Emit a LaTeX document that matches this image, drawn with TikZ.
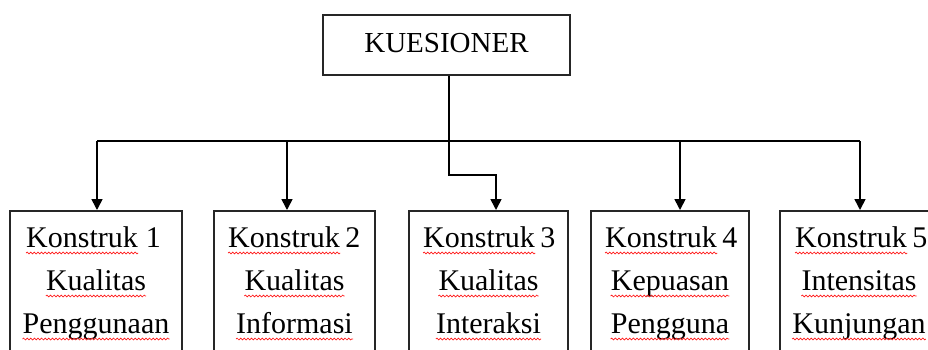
\documentclass[tikz,border=0pt]{standalone}
\usepackage{fontspec}
\setmainfont{Liberation Serif}
\usetikzlibrary{arrows.meta,decorations.pathmorphing}
\tikzset{
  conn/.style={line width=1.6pt, draw=black},
  arr/.style={conn, -{Triangle[length=11pt,width=11pt]}},
  topbox/.style={draw=black!85, line width=1.6pt, minimum width=247pt, minimum height=60pt,
    inner sep=0pt, text height=21pt, text depth=7pt, font=\fontsize{29}{34}\selectfont},
  cbox/.style={draw=black!85, line width=1.6pt, anchor=north, minimum height=200pt, inner sep=0pt},
  txt/.style={anchor=base, inner sep=0pt, font=\fontsize{30}{36}\selectfont},
  wave/.style={draw=red!90, line width=0.7pt,
    decorate, decoration={snake, amplitude=0.9pt, segment length=3.6pt}},
}
\begin{document}
\begin{tikzpicture}[x=1pt, y=-1pt]
  \useasboundingbox (0,0) rectangle (928,349);
  \clip (0,0) rectangle (928,349);

  \node[topbox] (q) at (446.5,45) {KUESIONER};

  \node[cbox, minimum width=172pt] (k1) at (96,210) {};
  \node[cbox, minimum width=161pt] (k2) at (294.5,210) {};
  \node[cbox, minimum width=159pt] (k3) at (488.5,210) {};
  \node[cbox, minimum width=158pt] (k4) at (670,210) {};
  \node[cbox, minimum width=158pt] (k5) at (859,210) {};

  % first lines: the word and its number
  \node[txt, anchor=base west] (k1a) at (26,247) {Konstruk};
  \node[txt, anchor=base west] (k1n) at ([xshift=7.5pt]k1a.base east) {1};
  \node[txt, anchor=base west] (k2a) at (228,247) {Konstruk};
  \node[txt, anchor=base west] (k2n) at ([xshift=5pt]k2a.base east) {2};
  \node[txt, anchor=base west] (k3a) at (423,247) {Konstruk};
  \node[txt, anchor=base west] (k3n) at ([xshift=5pt]k3a.base east) {3};
  \node[txt, anchor=base west] (k4a) at (605,247) {Konstruk};
  \node[txt, anchor=base west] (k4n) at ([xshift=5pt]k4a.base east) {4};
  \node[txt, anchor=base west] (k5a) at (795,247) {Konstruk};
  \node[txt, anchor=base west] (k5n) at ([xshift=5pt]k5a.base east) {5};

  % second and third lines
  \node[txt] (k1b) at (96,290) {Kualitas};
  \node[txt] (k1c) at (96,333) {Penggunaan};
  \node[txt] (k2b) at (294.5,290) {Kualitas};
  \node[txt] (k2c) at (294.5,333) {Informasi};
  \node[txt] (k3b) at (488.5,290) {Kualitas};
  \node[txt] (k3c) at (488.5,333) {Interaksi};
  \node[txt] (k4b) at (670,290) {Kepuasan};
  \node[txt] (k4c) at (670,333) {Pengguna};
  \node[txt] (k5b) at (859,290) {Intensitas};
  \node[txt] (k5c) at (859,333) {Kunjungan};

  % red wavy proofing marks under the words
  \foreach \w in {k1a,k1b,k1c,k2a,k2b,k2c,k3a,k3b,k3c,k4a,k4b,k4c,k5a,k5b,k5c}
    \draw[wave] ([yshift=-6pt]\w.base west) -- ([yshift=-6pt]\w.base east);

  % branch points on the distribution line
  \coordinate (j1) at (97,141);
  \coordinate (j2) at (287,141);
  \coordinate (j4) at (680,141);
  \coordinate (j5) at (860,141);
  \coordinate (bend) at (449,175);

  \draw[conn] (j1) -- (j5);
  \draw[arr] (j1) -- (j1 |- k1.north);
  \draw[arr] (j2) -- (j2 |- k2.north);
  \draw[arr] (j4) -- (j4 |- k4.north);
  \draw[arr] (j5) -- (j5 |- k5.north);
  \draw[arr] (q.south -| bend) -- (bend) -- ++(47,0) -- ([xshift=7.5pt]k3.north);
\end{tikzpicture}
\end{document}
